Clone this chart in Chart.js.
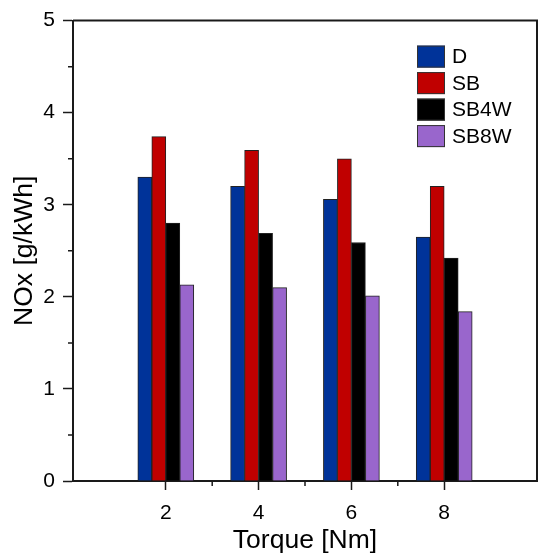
<!DOCTYPE html>
<html>
<head>
<meta charset="utf-8">
<script src="https://cdn.jsdelivr.net/npm/chart.js@4"></script>
<style>
  html, body { margin: 0; padding: 0; background: #fff; }
  #wrap { width: 540px; height: 557px; }
</style>
</head>
<body>
<div id="wrap"><canvas id="noxChart" width="540" height="557"></canvas></div>
<script>
// data
const torque = [2, 4, 6, 8];
const seriesNames = ["D", "SB", "SB4W", "SB8W"];
const valD = [3.30, 3.20, 3.06, 2.65];
const valSB = [3.74, 3.59, 3.50, 3.20];
const valSB4W = [2.80, 2.69, 2.59, 2.42];
const valSB8W = [2.13, 2.10, 2.01, 1.84];
const xTickValues = [2, 4, 6, 8];
const xMinorValues = [3, 5, 7];
const yMinorValues = [0.5, 1.5, 2.5, 3.5, 4.5];

const colors = ["#003399", "#c00000", "#000000", "#9966cc"];
const axisColor = "#1a1a1a";
const fontFam = "'Liberation Sans', Arial, sans-serif";

const allValues = [valD, valSB, valSB4W, valSB8W];

const datasets = allValues.map((vals, i) => ({
  label: seriesNames[i],
  data: torque.map((t, j) => ({ x: t, y: vals[j] })),
  backgroundColor: colors[i],
  borderColor: "#222",
  borderWidth: 1,
  borderSkipped: "bottom",
  barThickness: 14,
}));

// frame, minor ticks and the inside legend
const framePlugin = {
  id: "framePlugin",
  afterDraw(chart) {
    const { ctx, chartArea: a, scales } = chart;
    ctx.save();
    ctx.strokeStyle = axisColor;
    ctx.lineWidth = 2;
    ctx.beginPath();
    ctx.moveTo(a.left, a.top);
    ctx.lineTo(a.right, a.top);
    ctx.lineTo(a.right, a.bottom);
    ctx.stroke();

    ctx.lineWidth = 1.5;
    ctx.beginPath();
    xMinorValues.forEach((v) => {
      const px = scales.x.getPixelForValue(v);
      ctx.moveTo(px, a.bottom);
      ctx.lineTo(px, a.bottom + 5);
    });
    yMinorValues.forEach((v) => {
      const py = scales.y.getPixelForValue(v);
      ctx.moveTo(a.left, py);
      ctx.lineTo(a.left - 5, py);
    });
    ctx.stroke();

    // legend
    const lx = a.left + 344;
    let ly = a.top + 25;
    ctx.font = "21px " + fontFam;
    ctx.textBaseline = "middle";
    ctx.textAlign = "left";
    chart.data.datasets.forEach((ds) => {
      ctx.fillStyle = ds.backgroundColor;
      ctx.fillRect(lx, ly, 28, 22);
      ctx.lineWidth = 1;
      ctx.strokeStyle = "#333";
      ctx.strokeRect(lx + 0.5, ly + 0.5, 27, 21);
      ctx.fillStyle = "#000";
      ctx.fillText(ds.label, lx + 35, ly + 12);
      ly += 26.5;
    });
    ctx.restore();
  },
};

const chart = new Chart(document.getElementById("noxChart").getContext("2d"), {
  type: "bar",
  data: { datasets: datasets },
  options: {
    responsive: false,
    animation: false,
    layout: { padding: { top: 17, right: 3, left: 0, bottom: 0 } },
    plugins: {
      legend: { display: false },
      tooltip: { enabled: false },
    },
    scales: {
      x: {
        type: "linear",
        min: 0,
        max: 10,
        offset: false,
        afterBuildTicks: (scale) => {
          scale.ticks = xTickValues.map((v) => ({ value: v }));
        },
        afterFit: (scale) => {
          scale.height = 76;
        },
        ticks: {
          color: "#000",
          padding: 11,
          font: { family: fontFam, size: 21 },
          callback: (v) => String(v),
        },
        grid: {
          offset: false,
          drawOnChartArea: false,
          drawTicks: true,
          tickLength: 9,
          tickColor: axisColor,
          tickWidth: 1.5,
        },
        border: { display: true, color: axisColor, width: 2 },
        title: {
          display: true,
          text: "Torque [Nm]",
          color: "#000",
          font: { family: fontFam, size: 26.5 },
          padding: { top: 0, bottom: 0 },
        },
      },
      y: {
        min: 0,
        max: 5,
        afterFit: (scale) => {
          scale.width = 73;
        },
        ticks: {
          stepSize: 1,
          color: "#000",
          padding: 8,
          font: { family: fontFam, size: 21 },
        },
        grid: {
          drawOnChartArea: false,
          drawTicks: true,
          tickLength: 10,
          tickColor: axisColor,
          tickWidth: 1.5,
        },
        border: { display: true, color: axisColor, width: 2 },
        title: {
          display: true,
          text: "NOx [g/kWh]",
          color: "#000",
          font: { family: fontFam, size: 26.5 },
          padding: { top: 9, bottom: 0 },
        },
      },
    },
  },
  plugins: [framePlugin],
});
</script>
</body>
</html>
